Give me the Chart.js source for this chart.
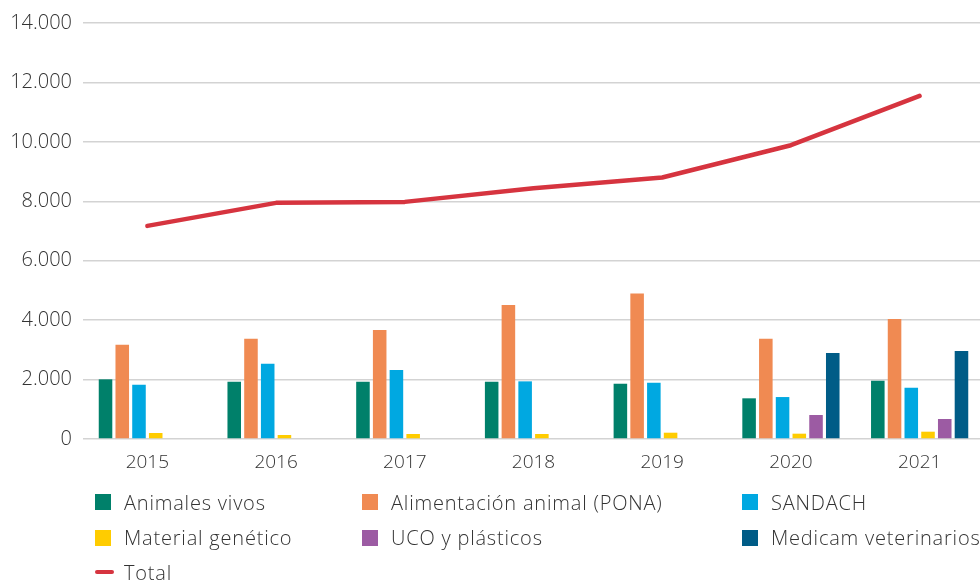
<!DOCTYPE html>
<html><head><meta charset="utf-8">
<script src="https://cdn.jsdelivr.net/npm/chart.js@4.4.0/dist/chart.umd.min.js"></script>
<style>
html,body{margin:0;padding:0;background:#fff;overflow:hidden;width:980px;height:581px;position:relative;}
#wrap{position:absolute;left:0;top:0;width:990px;height:481px;}
#legend{position:absolute;left:0;top:0;width:980px;height:581px;font-family:'Open Sans',sans-serif;font-weight:300;font-size:20px;letter-spacing:0.8px;color:#333;pointer-events:none;}
.item{position:absolute;display:flex;align-items:center;white-space:nowrap;height:24px;}
.sw{width:16px;height:16px;margin-right:13px;flex:none;}
.ln{width:19px;height:4px;border-radius:2px;margin-right:10px;flex:none;}
</style></head>
<body>
<div id="wrap"><canvas id="c"></canvas></div>
<div id="legend"></div>
<script>
const categories = ['2015','2016','2017','2018','2019','2020','2021'];
const animalesVivos = [2008,1927,1927,1927,1860,1369,1961];
const alimentacionAnimal = [3171,3373,3666,4506,4900,3373,4036];
const sandach = [1826,2532,2320,1940,1893,1412,1725];
const materialGenetico = [202,135,168,168,212,179,246];
const ucoPlasticos = [null,null,null,null,null,807,673];
const medicamVeterinarios = [null,null,null,null,null,2892,2960];
const total = [7173,7947,7980,8441,8801,9887,11545];
const yTicks = [0,2000,4000,6000,8000,10000,12000,14000];

const seriesNames = ['Animales vivos','Alimentación animal (PONA)','SANDACH','Material genético','UCO y plásticos','Medicam veterinarios','Total'];
const seriesColors = ['#00806A','#F08A52','#00A8E1','#FFCC00','#9C5BA3','#005C87','#D6343F'];
const barData = [animalesVivos,alimentacionAnimal,sandach,materialGenetico,ucoPlasticos,medicamVeterinarios];

function fmt(v){ return String(v).replace(/\B(?=(\d{3})+(?!\d))/g,'.'); }

const FONT_X = {family:"'Open Sans', sans-serif", size:19, weight:300};
const FONT_Y = {family:"'Open Sans', sans-serif", size:20, weight:300};

const datasets = barData.map((d,i)=>({
  type:'bar', label:seriesNames[i], data:d, backgroundColor:seriesColors[i],
  borderWidth:0, order:1, categoryPercentage:0.78, barPercentage:0.81
}));
datasets.push({
  type:'line', label:'Total', data:total, borderColor:seriesColors[6], backgroundColor:seriesColors[6],
  borderWidth:4.5, pointRadius:0, tension:0, order:0, borderCapStyle:'round', borderJoinStyle:'round'
});

new Chart(document.getElementById('c'), {
  data:{labels:categories, datasets},
  options:{
    responsive:true, maintainAspectRatio:false, animation:false,
    layout:{padding:{top:23,right:6,left:0,bottom:0}},
    plugins:{legend:{display:false}, tooltip:{enabled:false}},
    scales:{
      x:{
        grid:{display:false, drawTicks:false}, border:{display:false},
        ticks:{font:FONT_X, color:'#333', padding:12},
        afterFit(s){ s.height = 42; }
      },
      y:{
        min:0, max:14000,
        afterBuildTicks(s){ s.ticks = yTicks.map(v=>({value:v})); },
        grid:{color:'#d3d3d3', lineWidth:1.5, drawTicks:false}, border:{display:false},
        ticks:{font:FONT_Y, color:'#333', padding:11, callback:v=>fmt(v)},
        afterFit(s){ s.width = 83; }
      }
    }
  }
});

// HTML legend built from series names / colours
const cols = [95, 362, 742];
const rows = [502, 537.5, 572];
const legend = document.getElementById('legend');
seriesNames.forEach((name,i)=>{
  const el = document.createElement('div');
  el.className = 'item';
  el.style.left = cols[i%3] + 'px';
  el.style.top = (rows[Math.floor(i/3)] - 12) + 'px';
  const mk = document.createElement('span');
  mk.className = (i===6) ? 'ln' : 'sw';
  mk.style.background = seriesColors[i];
  el.appendChild(mk);
  el.appendChild(document.createTextNode(name));
  legend.appendChild(el);
});
</script>
</body></html>
